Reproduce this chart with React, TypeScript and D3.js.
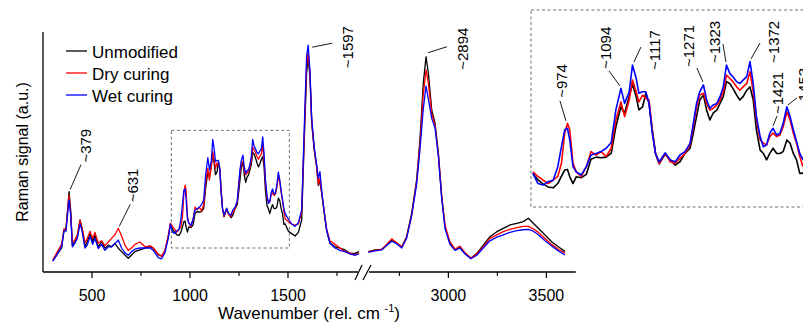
import React from 'react';
import * as d3 from 'd3';

// ---------- DATA ----------
const seriesNames = ['Unmodified', 'Dry curing', 'Wet curing'];
const seriesColors = ['#000000', '#ff0000', '#0000ff'];

// low-wavenumber segment (rel. cm-1)
const lowW = [
  300, 320, 345, 357, 367, 383, 391, 400, 413, 425, 439, 447, 456, 464, 476, 490, 503, 515, 532, 549,
  566, 583, 600, 617, 634, 651, 668, 685, 702, 719, 745, 770, 796, 813, 838, 855, 872, 889,
  900, 911, 922, 933, 944, 954, 962, 969, 975, 980, 987, 994, 1005, 1016, 1026, 1037, 1048, 1059, 1070, 1080,
  1091, 1099, 1109, 1116, 1124, 1130, 1138, 1145, 1152, 1159, 1166, 1174, 1187, 1198, 1209, 1219, 1230, 1241, 1248, 1255,
  1262, 1270, 1277, 1284, 1291, 1299, 1306, 1313, 1320, 1327, 1334, 1342, 1349, 1356, 1364, 1371, 1378, 1385, 1393, 1400,
  1407, 1414, 1421, 1429, 1436, 1443, 1451, 1458, 1465, 1472, 1479, 1486,
  1502, 1519, 1536, 1553, 1570, 1583, 1595, 1603, 1612, 1621, 1634, 1646, 1655, 1663, 1672, 1685, 1697, 1714, 1740, 1765,
  1791, 1816, 1842, 1862,
];
const unmodLow = [
  .047, .071, .10, .175, .175, .335, .258, .11, .126, .147, .217, .19, .147, .105, .126, .16, .126, .154, .105, .126,
  .099, .112, .105, .12, .099, .085, .071, .057, .071, .085, .092, .099, .105, .099, .071, .067, .085, .147,
  .199, .178, .165, .155, .152, .166, .19, .21, .212, .188, .166, .188, .185, .196, .245, .252, .25, .252, .265, .351,
  .416, .395, .45, .49, .449, .406, .416, .46, .427, .34, .264, .23, .262, .243, .226, .237, .264, .281, .33, .384,
  .438, .454, .405, .373, .395, .405, .427, .449, .498, .492, .476, .454, .438, .449, .47, .481, .438, .34, .275, .264,
  .243, .264, .281, .264, .264, .27, .308, .297, .264, .243, .199, .2,
  .17, .16, .15, .165, .217, .55, .828, .895, .814, .62, .508, .439, .36, .38, .328, .245, .175, .12, .105, .099,
  .092, .078, .078, .085,
];
const dryLow = [
  .05, .08, .115, .18, .18, .32, .25, .12, .135, .155, .215, .19, .16, .12, .14, .17, .14, .165, .12, .13,
  .11, .125, .14, .155, .182, .15, .112, .09, .1, .115, .125, .105, .11, .1, .075, .065, .09, .15,
  .204, .189, .177, .166, .177, .189, .232, .33, .362, .341, .232, .204, .189, .221, .27, .259, .27, .254, .281, .373,
  .432, .384, .438, .503, .465, .432, .454, .443, .438, .34, .264, .232, .264, .237, .232, .248, .264, .292, .351, .416,
  .454, .46, .427, .405, .411, .422, .438, .465, .519, .509, .498, .481, .47, .481, .492, .53, .465, .373, .308, .297,
  .292, .319, .33, .319, .324, .351, .4, .373, .33, .297, .254, .221,
  .21, .2, .195, .2, .25, .57, .86, .915, .83, .63, .51, .44, .365, .39, .33, .25, .18, .13, .115, .1,
  .085, .08, .07, .08,
];
const wetLow = [
  .045, .07, .105, .17, .17, .3, .24, .105, .12, .14, .2, .18, .14, .1, .112, .15, .115, .14, .098, .115,
  .09, .105, .105, .118, .133, .1, .08, .07, .085, .095, .1, .1, .1, .09, .06, .055, .08, .14,
  .199, .166, .161, .172, .177, .221, .286, .341, .346, .308, .221, .204, .194, .221, .259, .264, .27, .281, .3, .406,
  .476, .427, .465, .552, .509, .46, .465, .465, .427, .33, .264, .237, .266, .243, .237, .259, .27, .297, .362, .427,
  .465, .487, .438, .411, .422, .427, .449, .481, .552, .525, .514, .498, .492, .503, .514, .563, .492, .384, .319, .286,
  .292, .33, .346, .324, .33, .362, .416, .384, .341, .303, .264, .243,
  .22, .2, .19, .205, .26, .6, .9, .945, .84, .64, .52, .45, .39, .418, .34, .25, .175, .12, .1, .09,
  .085, .075, .07, .075,
];

// high-wavenumber segment
const highW = [
  2592, 2626, 2660, 2685, 2711, 2736, 2762, 2787, 2813, 2838, 2855, 2872, 2886, 2898, 2915, 2932, 2949, 2966, 2983, 3008,
  3034, 3059, 3085, 3115, 3145, 3178, 3212, 3247, 3280, 3314, 3349, 3382, 3408, 3433, 3459, 3493, 3527, 3561, 3595,
];
const unmodHigh = [
  .085, .092, .094, .112, .133, .12, .105, .147, .245, .383, .55, .786, .897, .828, .675, .62, .495, .314, .189, .12,
  .092, .105, .078, .057, .078, .112, .147, .168, .182, .196, .203, .21, .224, .203, .182, .154, .126, .105, .085,
];
const dryHigh = [
  .085, .09, .095, .115, .138, .122, .105, .145, .24, .375, .53, .74, .842, .786, .66, .61, .49, .315, .195, .125,
  .095, .108, .08, .058, .075, .105, .14, .155, .168, .178, .185, .19, .19, .18, .165, .14, .115, .095, .078,
];
const wetHigh = [
  .082, .088, .092, .11, .128, .118, .1, .14, .235, .365, .51, .68, .775, .72, .64, .6, .48, .305, .18, .115,
  .09, .1, .075, .055, .07, .1, .13, .145, .155, .165, .172, .176, .178, .17, .155, .13, .108, .088, .071,
];

const majorTicksLow = [500, 1000, 1500];
const minorTicksLow = [750, 1250, 1750];
const majorTicksHigh = [3000, 3500];
const minorTicksHigh = [2750, 3250];

// peak annotations: label, wavenumber, height of the marked peak
const mainPeaks = [
  { label: '~379', w: 383, v: 0.335 },
  { label: '~631', w: 634, v: 0.182 },
  { label: '~1597', w: 1603, v: 0.945 },
];
const highPeaks = [{ label: '~2894', w: 2886, v: 0.897 }];
const insetPeaks = [
  { label: '~974', w: 975, v: 0.362 },
  { label: '~1094', w: 1091, v: 0.476 },
  { label: '~1117', w: 1116, v: 0.552 },
  { label: '~1271', w: 1270, v: 0.487 },
  { label: '~1323', w: 1320, v: 0.552 },
  { label: '~1372', w: 1371, v: 0.563 },
  { label: '~1421', w: 1421, v: 0.346 },
  { label: '~1453', w: 1451, v: 0.416 },
];

// ---------- LAYOUT ----------
const FONT = '"Liberation Sans", Arial, sans-serif';
// label layout offsets relative to the peak point: [leader start dx,dy, leader end dx,dy, text dx,dy]
const annOffsets: Record<string, number[]> = {
  '~379': [1, -2, 12, -27, 16, -29],
  '~631': [1, -2, 12, -24, 14, -26],
  '~1597': [4, 2, 24, -2, 39, 23],
  '~2894': [2, -4, 21, -10, 36, 13],
  '~974': [-1.5, -2.5, -7.5, -22.5, -5.5, -25.5],
  '~1094': [-1, -2.5, -12, -17.5, -15, -19.5],
  '~1117': [1.5, -3, 8.5, -18, 22.5, 5],
  '~1271': [-0.5, -3, -6.5, -17, -14.5, -18],
  '~1323': [-0.5, -3, -3.5, -21, -11.5, -2],
  '~1372': [1, -2.7, 10, -18.7, 24, 1.3],
  '~1421': [0, -2.3, 4, -12.3, 4, -14.3],
  '~1453': [1, -1.8, 10, -8.8, 17, 3.2],
};

export default function App() {
  const W = 803;
  const H = 323;
  const xLow = d3.scaleLinear().domain([250, 1870]).range([43, 360.5]);
  const xHigh = d3.scaleLinear().domain([2590, 3650]).range([368, 575.8]);
  const y = d3.scaleLinear().domain([0, 1]).range([272, 32]);
  const xIn = d3.scaleLinear().domain([974, 1486]).range([567, 803]);
  const yIn = d3.scaleLinear().domain([0, 1]).range([234.5, -72.5]);

  const lowSeries = [unmodLow, dryLow, wetLow];
  const highSeries = [unmodHigh, dryHigh, wetHigh];

  const lineLow = d3.line<number>().x((_, i) => xLow(lowW[i])).y((d) => y(d));
  const lineHigh = d3.line<number>().x((_, i) => xHigh(highW[i])).y((d) => y(d));
  const lineIn = d3
    .line<[number, number]>()
    .x((d) => xIn(d[0]))
    .y((d) => yIn(d[1]));

  const insetData = lowSeries.map((s) =>
    lowW.map((w, i) => [w, s[i]] as [number, number]).filter((d) => d[0] >= 900 && d[0] <= 1486)
  );

  const axisY = 272;

  const renderAnn = (p: { label: string; w: number; v: number }, xs: (n: number) => number, ys: (n: number) => number) => {
    const o = annOffsets[p.label];
    const px = xs(p.w);
    const py = ys(p.v);
    const tx = px + o[4];
    const ty = py + o[5];
    return (
      <g key={p.label}>
        <line x1={px + o[0]} y1={py + o[1]} x2={px + o[2]} y2={py + o[3]} stroke="#000" strokeWidth={0.9} />
        <text
          x={tx}
          y={ty}
          transform={`rotate(-90 ${tx} ${ty})`}
          fontSize={15}
          dominantBaseline="central"
          fontFamily={FONT}
          fill="#000"
        >
          {p.label}
        </text>
      </g>
    );
  };

  return (
    <svg
      width={W}
      height={H}
      viewBox={`0 0 ${W} ${H}`}
      style={{ position: 'absolute', left: 0, top: 0, display: 'block', background: '#fff' }}
    >
      <rect x={0} y={0} width={W} height={H} fill="#fff" />
      <defs>
        <clipPath id="insetClip">
          <rect x={531} y={10} width={272} height={197} />
        </clipPath>
      </defs>

      {/* axes */}
      <line x1={43} y1={32} x2={43} y2={axisY} stroke="#000" strokeWidth={1.3} />
      <line x1={43} y1={axisY} x2={358} y2={axisY} stroke="#000" strokeWidth={1.3} />
      <line x1={369} y1={axisY} x2={575.8} y2={axisY} stroke="#000" strokeWidth={1.3} />
      <line x1={355} y1={280} x2={362} y2={265} stroke="#000" strokeWidth={1.2} />
      <line x1={363} y1={280} x2={371} y2={265} stroke="#000" strokeWidth={1.2} />
      {majorTicksLow.map((t) => (
        <g key={'ml' + t}>
          <line x1={xLow(t)} x2={xLow(t)} y1={axisY} y2={axisY + 6} stroke="#000" strokeWidth={1.2} />
          <text x={xLow(t)} y={301} textAnchor="middle" fontSize={16} fontFamily={FONT}>
            {t}
          </text>
        </g>
      ))}
      {minorTicksLow.map((t) => (
        <line key={'nl' + t} x1={xLow(t)} x2={xLow(t)} y1={axisY} y2={axisY + 4} stroke="#000" strokeWidth={1.1} />
      ))}
      {majorTicksHigh.map((t) => (
        <g key={'mh' + t}>
          <line x1={xHigh(t)} x2={xHigh(t)} y1={axisY} y2={axisY + 6} stroke="#000" strokeWidth={1.2} />
          <text x={xHigh(t)} y={301} textAnchor="middle" fontSize={16} fontFamily={FONT}>
            {t}
          </text>
        </g>
      ))}
      {minorTicksHigh.map((t) => (
        <line key={'nh' + t} x1={xHigh(t)} x2={xHigh(t)} y1={axisY} y2={axisY + 4} stroke="#000" strokeWidth={1.1} />
      ))}

      {/* axis titles */}
      <text
        transform="translate(27.5,152) rotate(-90)"
        textAnchor="middle"
        fontSize={16}
        fontFamily={FONT}
      >
        Raman signal (a.u.)
      </text>
      <text x={309} y={318.5} textAnchor="middle" fontSize={17} fontFamily={FONT}>
        Wavenumber (rel. cm{' '}
        <tspan dy={-7} fontSize={11}>
          -1
        </tspan>
        <tspan dy={7}>)</tspan>
      </text>

      {/* dashed zoom box in main plot */}
      <rect
        x={xLow(905)}
        y={y(0.59)}
        width={xLow(1507) - xLow(905)}
        height={y(0.1) - y(0.59)}
        fill="none"
        stroke="#707070"
        strokeWidth={1}
        strokeDasharray="3,2.5"
      />

      {/* spectra */}
      {lowSeries.map((s, k) => (
        <path key={'lo' + k} d={lineLow(s) || ''} fill="none" stroke={seriesColors[k]} strokeWidth={1.3} strokeLinejoin="round" />
      ))}
      {highSeries.map((s, k) => (
        <path key={'hi' + k} d={lineHigh(s) || ''} fill="none" stroke={seriesColors[k]} strokeWidth={1.3} strokeLinejoin="round" />
      ))}

      {/* legend */}
      {seriesNames.map((n, k) => (
        <g key={n}>
          <line x1={66} x2={87} y1={51 + k * 22} y2={51 + k * 22} stroke={seriesColors[k]} strokeWidth={1.3} />
          <text x={92} y={58 + k * 22} fontSize={17} fontFamily={FONT}>
            {n}
          </text>
        </g>
      ))}

      {mainPeaks.map((p) => renderAnn(p, xLow, y))}
      {highPeaks.map((p) => renderAnn(p, xHigh, y))}

      {/* inset */}
      <rect
        x={531}
        y={10}
        width={300}
        height={197}
        fill="#fff"
        stroke="#707070"
        strokeWidth={1}
        strokeDasharray="3,2.5"
      />
      <g clipPath="url(#insetClip)">
        {insetData.map((s, k) => (
          <path key={'in' + k} d={lineIn(s) || ''} fill="none" stroke={seriesColors[k]} strokeWidth={1.6} strokeLinejoin="round" />
        ))}
      </g>
      {insetPeaks.map((p) => renderAnn(p, xIn, yIn))}
    </svg>
  );
}
